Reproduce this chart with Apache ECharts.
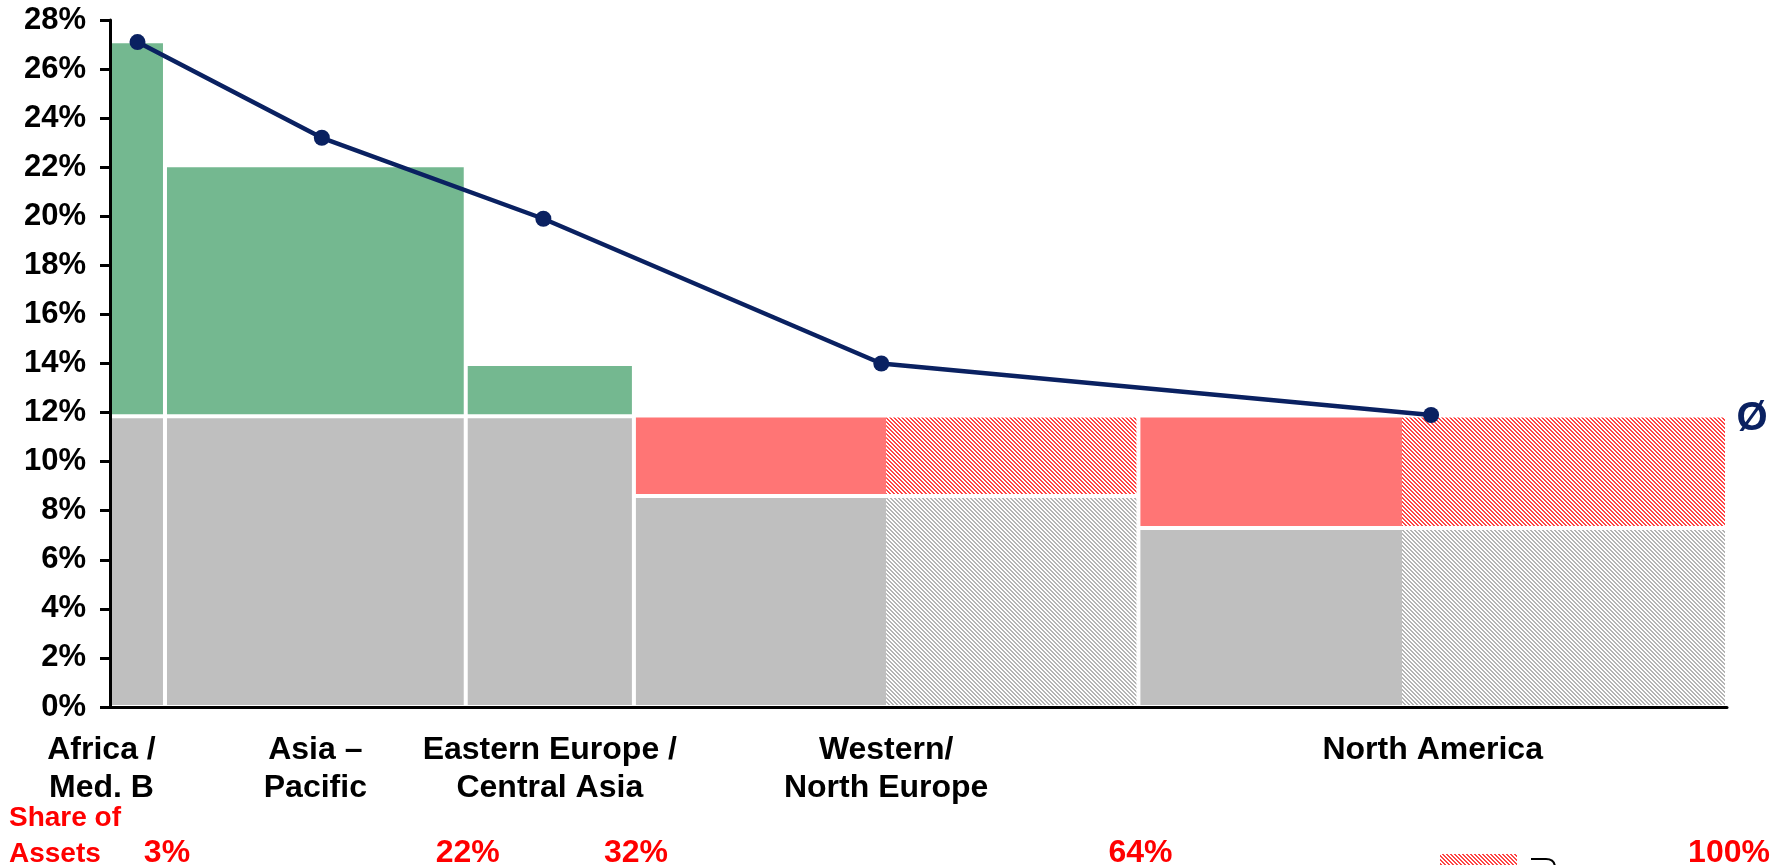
<!DOCTYPE html>
<html>
<head>
<meta charset="utf-8">
<script src="https://cdn.jsdelivr.net/npm/echarts@6/dist/echarts.min.js"></script>
<style>
  html, body { margin: 0; padding: 0; background: #fff; }
  #chart { width: 1780px; height: 865px; }
</style>
</head>
<body>
<div id="chart"></div>
<script>
// Regions along the x axis (bar width = share of assets, in %)
const regions = ['Africa /\nMed. B', 'Asia –\nPacific', 'Eastern Europe /\nCentral Asia', 'Western/\nNorth Europe', 'North America'];
const assetShare = [3.4, 18.6, 10.4, 31.2, 36.4];
// Hatched part (share of assets) at the right end of each region
const hatchedShare = [0, 0, 0, 15.6, 20.1];
// Grey base and top of the coloured block, in % return
const greyTop = [11.85, 11.85, 11.85, 8.6, 7.3];
const barTop = [27.05, 22.0, 13.9, 11.8, 11.8];
// Line: position on the share axis and return per region
const lineShare = [1.7, 13.1, 26.8, 47.7, 81.7];
const lineReturn = [27.1, 23.2, 19.9, 14.0, 11.9];
// Overall average (Ø)
const average = 11.8;
// Y axis ticks
const yMin = 0, yMax = 28, yStep = 2;

const NAVY = '#0a2161';
const GREEN = '#74b890';
const RED = '#ff7575';
const GREY = '#bfbfbf';
const FONT = "'Liberation Sans', Arial, sans-serif";

// cumulative boundaries
const starts = [], ends = [], centers = [];
let acc = 0;
assetShare.forEach(s => { starts.push(acc); acc += s; ends.push(acc); centers.push(acc - s / 2); });

function stripes(color) {
  const c = document.createElement('canvas');
  c.width = 4; c.height = 4;
  const g = c.getContext('2d');
  g.fillStyle = '#ffffff';
  g.fillRect(0, 0, 4, 4);
  g.fillStyle = color;
  for (let y = 0; y < 4; y++) {
    g.fillRect(y % 4, y, 1, 1);
    g.fillRect((y + 1) % 4, y, 1, 1);
  }
  return c;
}
const redHatch = { image: stripes('#ff4545'), repeat: 'repeat' };
const greyHatch = { image: stripes('#b4b4b4'), repeat: 'repeat' };

const GAP = 2;

function renderBlocks(params, api) {
  const i = params.dataIndex;
  const x0 = api.coord([starts[i], 0])[0] + GAP;
  const x1 = api.coord([ends[i], 0])[0] - GAP;
  const xs = api.coord([ends[i] - hatchedShare[i], 0])[0];
  const yBase = api.coord([0, 0])[1] - GAP;
  const yGrey = api.coord([0, greyTop[i]])[1];
  const yTop = api.coord([0, barTop[i]])[1];
  const topColor = barTop[i] > average ? GREEN : RED;
  const children = [];
  const solidRight = hatchedShare[i] > 0 ? xs : x1;
  children.push({ type: 'rect', shape: { x: x0, y: yGrey + GAP, width: solidRight - x0, height: yBase - yGrey - GAP }, style: { fill: GREY } });
  children.push({ type: 'rect', shape: { x: x0, y: yTop, width: solidRight - x0, height: yGrey - GAP - yTop }, style: { fill: topColor } });
  if (hatchedShare[i] > 0) {
    children.push({ type: 'rect', shape: { x: xs, y: yGrey + GAP, width: x1 - xs, height: yBase - yGrey - GAP }, style: { fill: greyHatch } });
    children.push({ type: 'rect', shape: { x: xs, y: yTop, width: x1 - xs, height: yGrey - GAP - yTop }, style: { fill: redHatch } });
  }
  return { type: 'group', children };
}

// Africa's name sits left of its narrow bar
const labelShift = [-36, 0, 0, 0, 0];

function renderLabels(params, api) {
  const i = params.dataIndex;
  const p = api.coord([centers[i], 0]);
  const b = api.coord([ends[i], 0]);
  return {
    type: 'group',
    children: [
      { type: 'text', style: { text: regions[i], x: p[0] + labelShift[i], y: p[1] + 24, align: 'center', verticalAlign: 'top',
          font: 'bold 32px ' + FONT, lineHeight: 38, fill: '#000' } },
      { type: 'text', style: { text: Math.round(ends[i]) + '%', x: b[0] + 2, y: p[1] + 146, align: 'center', verticalAlign: 'middle',
          font: 'bold 32px ' + FONT, fill: '#ff0000' } }
    ]
  };
}

function renderAverage(params, api) {
  const p = api.coord([100, average]);
  return { type: 'text', style: { text: 'Ø', x: p[0] + 25, y: p[1] + 1, align: 'center', verticalAlign: 'middle',
      font: 'bold 40px ' + FONT, fill: NAVY } };
}

const chart = echarts.init(document.getElementById('chart'), null, { renderer: 'canvas' });
chart.setOption({
  animation: false,
  backgroundColor: '#ffffff',
  grid: { left: 110, right: 53, top: 20, bottom: 158 },
  xAxis: {
    type: 'value', min: 0, max: 100,
    axisLine: { show: true, onZero: false, lineStyle: { color: '#000', width: 3 } },
    axisTick: { show: false }, axisLabel: { show: false }, splitLine: { show: false }
  },
  yAxis: {
    type: 'value', min: yMin, max: yMax, interval: yStep,
    axisLine: { show: true, lineStyle: { color: '#000', width: 3 } },
    axisTick: { show: true, length: 10, lineStyle: { color: '#000', width: 3 } },
    axisLabel: { formatter: '{value}%', fontSize: 31, fontWeight: 'bold', fontFamily: FONT, color: '#000', margin: 24,
      padding: [4, 0, 0, 0] },
    splitLine: { show: false }
  },
  series: [
    { type: 'custom', renderItem: renderBlocks, clip: false, z: 1,
      data: regions.map((r, i) => [centers[i], barTop[i]]), encode: { x: 0, y: 1 } },
    { type: 'custom', renderItem: renderLabels, clip: false, z: 5,
      data: regions.map((r, i) => [centers[i], 0]), encode: { x: 0, y: 1 } },
    { type: 'custom', renderItem: renderAverage, clip: false, z: 5,
      data: [[100, average]], encode: { x: 0, y: 1 } },
    { type: 'line', z: 4, data: regions.map((r, i) => [lineShare[i], lineReturn[i]]),
      symbol: 'circle', symbolSize: 16, showSymbol: true,
      lineStyle: { color: NAVY, width: 4.5 }, itemStyle: { color: NAVY } }
  ],
  graphic: [
    { type: 'text', x: 9, y: 800, style: { text: 'Share of\nAssets', font: 'bold 28px ' + FONT, lineHeight: 36, fill: '#ff0000' } },
    { type: 'rect', shape: { x: 1440, y: 854, width: 77, height: 20 }, style: { fill: redHatch } },
    { type: 'polyline', shape: { points: [[1531, 859], [1546, 859]] }, style: { fill: null, stroke: '#000', lineWidth: 2 } },
    { type: 'bezierCurve', shape: { x1: 1546, y1: 859, x2: 1555, y2: 868, cpx1: 1555, cpy1: 859 }, style: { fill: null, stroke: '#000', lineWidth: 2 } }
  ]
});
</script>
</body>
</html>
